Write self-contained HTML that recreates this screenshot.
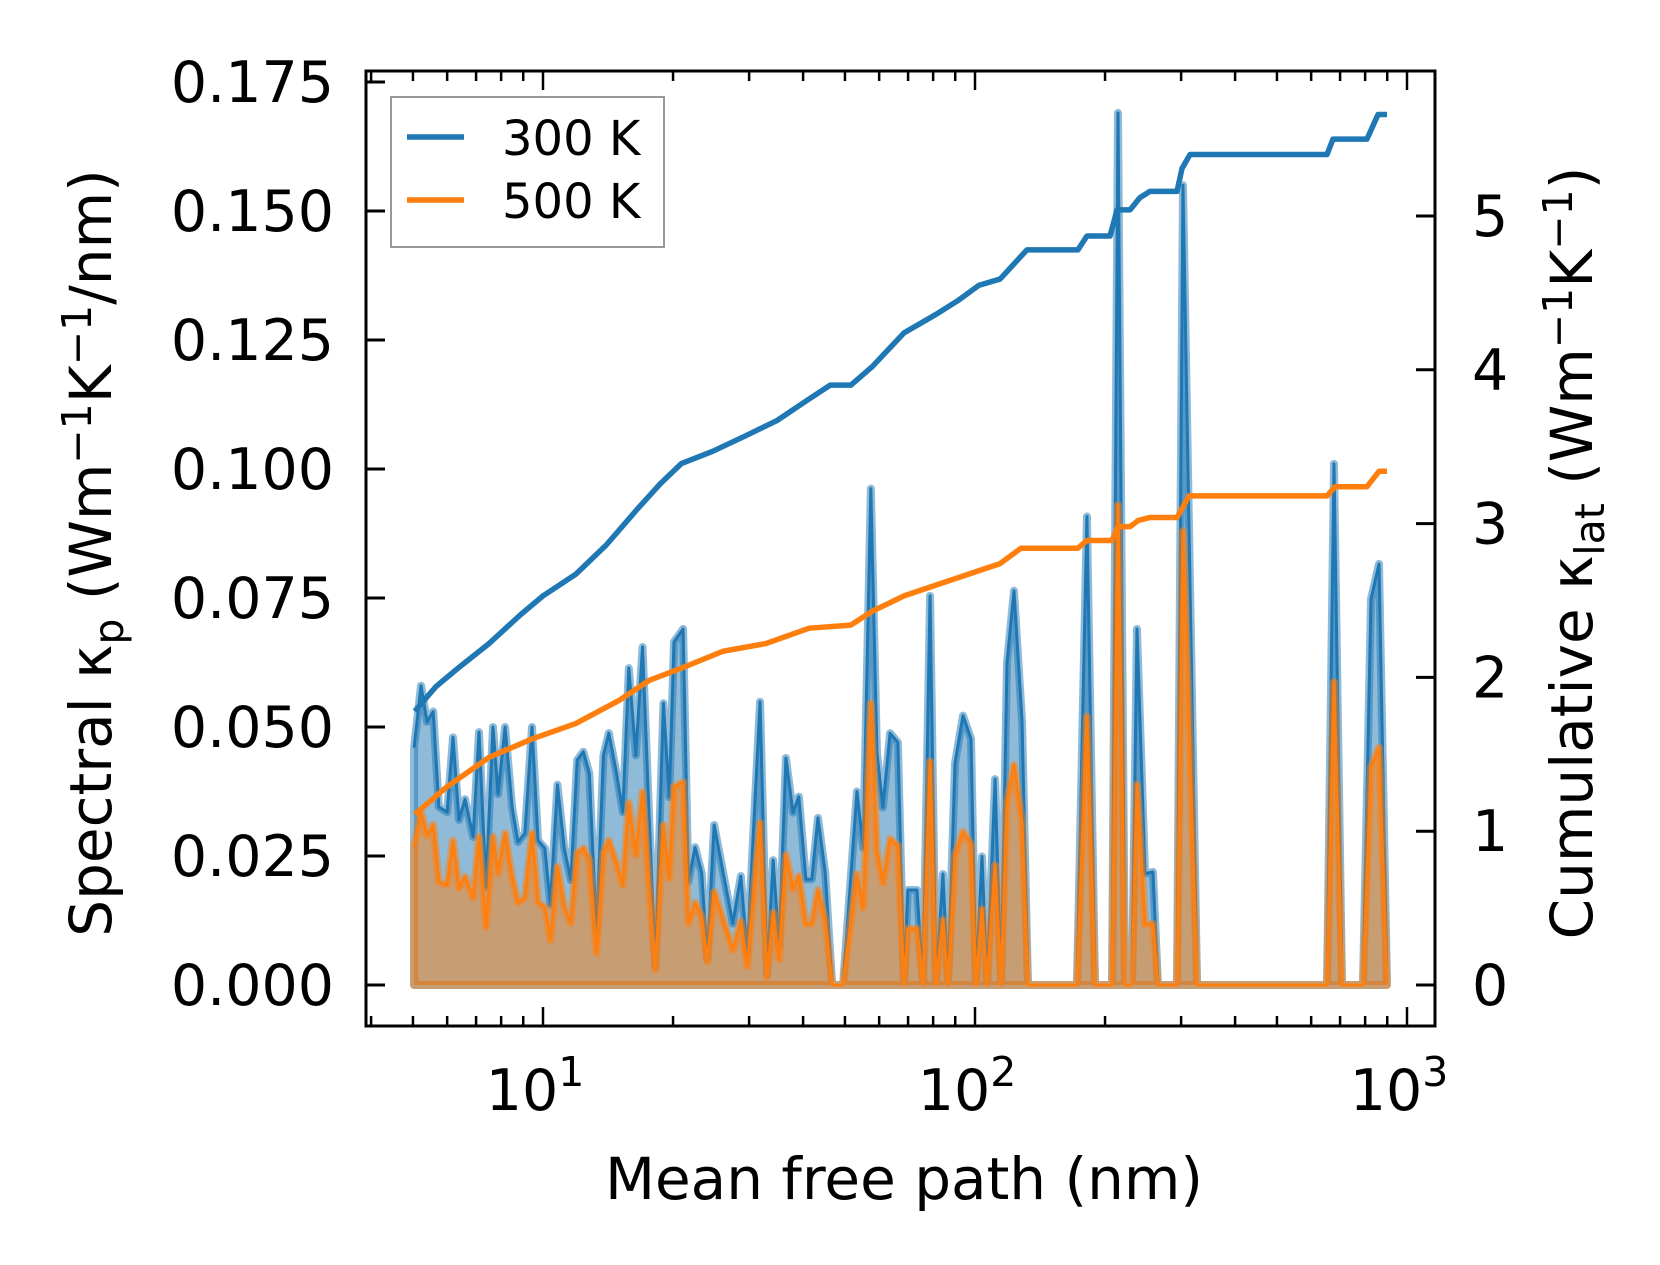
<!DOCTYPE html>
<html><head><meta charset="utf-8"><style>
html,body{margin:0;padding:0;background:#fff;}
svg{display:block;font-family:"DejaVu Sans","Liberation Sans",sans-serif;}
</style></head><body>
<svg id="chart" width="1660" height="1265" viewBox="0 0 1660 1265" xmlns="http://www.w3.org/2000/svg">
<g id="marks"></g>
<g id="axes"></g>
<text x="904" y="1199" font-size="58" text-anchor="middle">Mean free path (nm)</text>
<text transform="translate(111,553) rotate(-90)" font-size="58" text-anchor="middle">Spectral κ<tspan font-size="41" dy="12">p</tspan><tspan dy="-12"> (Wm</tspan><tspan font-size="41" dy="-20">−1</tspan><tspan dy="20">K</tspan><tspan font-size="41" dy="-20">−1</tspan><tspan dy="20">/nm)</tspan></text>
<text transform="translate(1592,553) rotate(-90)" font-size="58" text-anchor="middle">Cumulative κ<tspan font-size="41" dy="12">lat</tspan><tspan dy="-12"> (Wm</tspan><tspan font-size="41" dy="-20">−1</tspan><tspan dy="20">K</tspan><tspan font-size="41" dy="-20">−1</tspan><tspan dy="20">)</tspan></text>
<g>
<rect x="391" y="97" width="273" height="150" fill="#fff" fill-opacity="0.8" stroke="#999" stroke-width="2"/>
<line x1="407" y1="137" x2="464" y2="137" stroke="#1f77b4" stroke-width="5.5"/>
<text x="502" y="155" font-size="48">300 K</text>
<line x1="407" y1="200" x2="464" y2="200" stroke="#ff7f0e" stroke-width="5.5"/>
<text x="502" y="218" font-size="48">500 K</text>
</g>
</svg>
<script>
const mfp = [5.03,5.22,5.39,5.57,5.74,6.00,6.19,6.39,6.60,6.89,7.11,7.38,7.66,7.87,8.17,8.48,8.75,9.08,9.43,9.74,10.1,10.4,10.8,11.2,11.6,12.0,12.4,12.8,13.3,13.8,14.2,14.8,15.3,15.8,16.4,17.0,17.6,18.2,19.0,19.6,20.1,21.1,21.7,22.5,23.3,24.0,24.9,
27.5,28.7,29.7,31.8,33.0,34.1,35.2,36.5,37.9,39.1,40.6,41.9,43.3,45.0,46.7,49.5,53.3,55.1,57.4,59.3,61.2,63.6,66.3,68.5,69.9,73.4,75.8,78.7,81.2,84.3,86.6,89.9,93.8,97.9,100.5,103.8,106.6,111.3,114.9,118.6,123.1,128.5,132.6,141.4,
172.2,181.6,189.6,207.6,214.3,222.4,230.9,237.1,247.5,258.2,265.2,293.5,303.0,326.6,652.9,677.6,707.3,790.9,825.5,861.4,898.8];
const spec300 = [0.046,0.058,0.051,0.053,0.0345,0.0335,0.048,0.032,0.036,0.0287,0.049,0.019,0.050,0.037,0.050,0.0345,0.0277,0.0294,0.050,0.028,0.0265,0.0155,0.0388,0.0265,0.0203,0.0436,0.0452,0.041,0.010,0.0445,0.0488,0.041,0.0335,0.0614,0.0445,0.0655,0.033,0.0035,0.0546,0.0364,0.0665,0.069,0.020,0.0267,0.0217,0.005,0.031,
0.0119,0.0211,0.0061,0.0549,0.002,0.0242,0.0075,0.044,0.0334,0.0365,0.0205,0.0205,0.0324,0.0218,0,0,0.0375,0.0266,0.0962,0.045,0.0344,0.0488,0.047,0,0.0184,0.0184,0,0.0754,0,0.0215,0,0.043,0.0522,0.0477,0,0.0249,0,0.0399,0,0.0624,0.0764,0.0511,0,0,
0,0.0908,0,0,0.169,0,0,0.069,0.0216,0.0219,0,0,0.155,0,0,0.101,0,0,0.0748,0.0816,0];
const spec500 = [0.0267,0.0335,0.029,0.031,0.020,0.0194,0.028,0.0188,0.021,0.0169,0.0287,0.0112,0.0287,0.0217,0.0294,0.021,0.016,0.017,0.0294,0.016,0.0151,0.0087,0.0229,0.0151,0.012,0.0256,0.0265,0.0242,0.0062,0.0256,0.028,0.0236,0.0194,0.0353,0.0252,0.0374,0.019,0.003,0.031,0.0207,0.0384,0.0393,0.012,0.0159,0.0132,0.0045,0.018,
0.0068,0.0123,0.0036,0.0314,0.0016,0.014,0.005,0.0252,0.0187,0.0211,0.0119,0.0119,0.0184,0.0126,0,0,0.0215,0.015,0.0546,0.026,0.0198,0.0283,0.027,0,0.0109,0.0109,0,0.0433,0,0.0126,0,0.0252,0.0297,0.0273,0,0.0147,0,0.0232,0,0.0355,0.0426,0.0314,0,0,
0,0.052,0,0,0.093,0,0,0.0388,0.0118,0.0118,0,0,0.088,0,0,0.0587,0,0,0.0422,0.046,0];
const cumMfp300 = [5.05,5.65,6.36,7.50,8.89,10.0,11.9,14.0,16.6,18.7,20.9,24.7,29.4,34.8,41.3,46.2,51.6,57.8,68.5,81.2,91.3,102.2,114.3,131.9,173.1,181.6,205.4,213.2,228.5,241.0,254.1,293.5,301.5,314.6,652.9,674.0,807.8,857.0,898.8];
const cum300 = [1.78,1.94,2.06,2.22,2.41,2.53,2.67,2.86,3.10,3.26,3.39,3.47,3.57,3.67,3.81,3.90,3.90,4.02,4.24,4.36,4.45,4.55,4.59,4.78,4.78,4.87,4.87,5.04,5.04,5.12,5.16,5.16,5.31,5.40,5.40,5.50,5.50,5.66,5.66];
const cumMfp500 = [5.05,6.00,7.50,9.43,11.9,15.0,17.6,20.9,26.1,32.8,41.3,51.6,57.8,68.5,81.2,96.3,114.3,127.8,173.1,181.6,207.6,214.3,228.5,238.5,254.1,293.5,312.9,652.9,681.2,807.8,861.4,898.8];
const cum500 = [1.11,1.29,1.48,1.60,1.70,1.85,1.98,2.06,2.17,2.22,2.32,2.34,2.43,2.53,2.60,2.67,2.74,2.84,2.84,2.89,2.89,2.98,2.98,3.02,3.04,3.04,3.18,3.18,3.24,3.24,3.34,3.34];
const leftTicks = [0,0.025,0.05,0.075,0.1,0.125,0.15,0.175];
const leftTickLabels = ["0.000","0.025","0.050","0.075","0.100","0.125","0.150","0.175"];
const rightTicks = [0,1,2,3,4,5];
const xMajor = [10,100,1000];
const xMajorExp = ["1","2","3"];

const NS="http://www.w3.org/2000/svg";
const L=366,R=1435,T=71,B=1026;
const X=v=>543+(Math.log10(v)-1)*432;
const YL=v=>985-v*5160;
const YR=v=>985-v*153.8;
function mk(tag,attrs,parent){const e=document.createElementNS(NS,tag);for(const k in attrs)e.setAttribute(k,attrs[k]);parent.appendChild(e);return e;}
const marks=document.getElementById('marks');
const axes=document.getElementById('axes');

function area(vals,color,name){
  let d=`M${X(mfp[0])},${YL(0)}`;
  mfp.forEach((m,i)=>{d+=` L${X(m)},${YL(vals[i])}`;});
  d+=` L${X(mfp[mfp.length-1])},${YL(0)} Z`;
  const p=mk('path',{d:d,fill:color,'fill-opacity':0.5,stroke:color,'stroke-opacity':0.5,'stroke-width':8,'stroke-linejoin':'round'},marks);
  
  
  const ln=mk('polyline',{points:mfp.map((m,i)=>X(m)+','+YL(vals[i])).join(' '),fill:'none',stroke:color,'stroke-width':3,'stroke-linejoin':'round'},marks);
  
  
}
area(spec300,'#1f77b4','spectral-300k');
area(spec500,'#ff7f0e','spectral-500k');
function cum(xs,vals,color,name){
  const ln=mk('polyline',{points:xs.map((m,i)=>X(m)+','+YR(vals[i])).join(' '),fill:'none',stroke:color,'stroke-width':5.5,'stroke-linejoin':'round'},marks);
  
  
}
cum(cumMfp500,cum500,'#ff7f0e','cumulative-500k-line');
cum(cumMfp300,cum300,'#1f77b4','cumulative-300k-line');

const frame=mk('rect',{x:L,y:T,width:R-L,height:B-T,fill:'none',stroke:'#000','stroke-width':3},axes);


leftTicks.forEach((v,i)=>{
  const y=YL(v);
  const t=mk('line',{x1:L,y1:y,x2:L+19,y2:y,stroke:'#000','stroke-width':3},axes);
  
  
  const tx=mk('text',{x:334,y:y+20,'font-size':57,'text-anchor':'end'},axes);
  tx.textContent=leftTickLabels[i];
  
  
});
rightTicks.forEach(v=>{
  const y=YR(v);
  const t=mk('line',{x1:R-19,y1:y,x2:R,y2:y,stroke:'#000','stroke-width':3},axes);
  
  
  const tx=mk('text',{x:1472,y:y+20,'font-size':57},axes);
  tx.textContent=String(v);
  
  
});
for(let dec=1;dec<=1000;dec*=10){
  for(let k=1;k<=9;k++){
    const v=dec*k, x=X(v);
    if(x<L+1||x>R-1)continue;
    const len=k===1&&dec>=10?19:10;
    const a=mk('line',{x1:x,y1:B,x2:x,y2:B-len,stroke:'#000','stroke-width':2.5},axes);
    
    
    const b=mk('line',{x1:x,y1:T,x2:x,y2:T+len,stroke:'#000','stroke-width':2.5},axes);
    
    
  }
}
xMajor.forEach((v,i)=>{
  const tx=mk('text',{x:X(v)-8,y:1110,'font-size':57,'text-anchor':'middle'},axes);
  tx.textContent='10';
  const s=mk('tspan',{'font-size':41,dy:-24},tx);
  s.textContent=xMajorExp[i];
  
  
});
</script>
</body></html>
